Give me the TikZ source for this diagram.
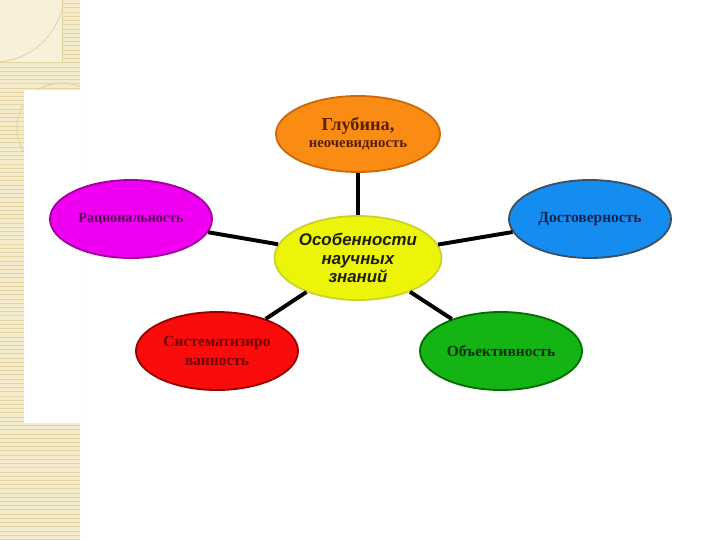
\documentclass[tikz,border=0pt]{standalone}
\usepackage{fontspec}
\setmainfont{Liberation Serif}
\newfontfamily\hubfont{Liberation Sans}
\usetikzlibrary{shapes.geometric,patterns}

\definecolor{stripbeige}{RGB}{244,234,204}
\definecolor{stripline}{RGB}{228,212,160}
\definecolor{stripcream}{RGB}{248,240,218}
\definecolor{orangefill}{RGB}{250,140,20}
\definecolor{orangeline}{RGB}{205,105,10}
\definecolor{orangetext}{RGB}{90,30,0}
\definecolor{yellowfill}{RGB}{236,244,10}
\definecolor{yellowline}{RGB}{205,210,40}
\definecolor{hubtext}{RGB}{30,30,10}
\definecolor{magentafill}{RGB}{240,0,240}
\definecolor{magentaline}{RGB}{160,0,160}
\definecolor{magentatext}{RGB}{80,0,80}
\definecolor{bluefill}{RGB}{20,140,240}
\definecolor{blueline}{RGB}{60,80,100}
\definecolor{bluetext}{RGB}{20,35,80}
\definecolor{redfill}{RGB}{250,12,12}
\definecolor{redline}{RGB}{150,0,0}
\definecolor{redtext}{RGB}{110,0,0}
\definecolor{greenfill}{RGB}{20,180,20}
\definecolor{greenline}{RGB}{0,110,0}
\definecolor{greentext}{RGB}{10,45,10}

\tikzset{
  oval/.style={ellipse, draw, line width=1.3pt, minimum width=4.05cm,
    minimum height=1.95cm, inner sep=0pt, align=center, font=\bfseries},
  link/.style={line width=2.8pt, black},
}

\begin{document}
\begin{tikzpicture}[x=0.025cm, y=-0.025cm]
  \useasboundingbox (0,0) rectangle (720,540);

  %%%%% STRIP %%%%%
  \fill[white] (0,0) rectangle (720,540);
  \fill[stripbeige] (0,0) rectangle (80,540);
  \fill[pattern=horizontal lines, pattern color=stripline] (0,0) rectangle (80,540);
  \fill[stripcream] (0,0) rectangle (62,62);
  \draw[stripline] (0,62) -- (62,62) -- (62,0);
  \begin{scope}
    \clip (0,0) rectangle (62,62);
    \draw[stripline, line width=0.6pt] (-6,-8) circle (70);
  \end{scope}
  \begin{scope}
    \clip (0,62) rectangle (80,90);
    \draw[stripline, line width=0.8pt] (62,128) circle (45);
  \end{scope}
  \begin{scope}
    \clip (0,90) rectangle (24,423);
    \draw[stripline, line width=0.8pt] (62,128) circle (45);
  \end{scope}
  \fill[white] (24,90) rectangle (80,423);

  %%%%% OVALS %%%%%
  \node[oval, fill=yellowfill, draw=yellowline, text=hubtext, minimum height=2.1cm,
    font=\hubfont\bfseries\itshape\fontsize{12}{13.2}\selectfont] (hub) at (358,258)
    {Особенности\\научных\\знаний};
  \node[oval, fill=orangefill, draw=orangeline, text=orangetext,
    minimum width=4.1cm, minimum height=1.9cm] (depth) at (358,134)
    {{\fontsize{13}{15}\selectfont Глубина,}\\{\fontsize{10.5}{13}\selectfont неочевидность}};
  \node[oval, fill=magentafill, draw=magentaline, text=magentatext,
    font=\bfseries\fontsize{10}{12}\selectfont] (ratio) at (131,219) {Рациональность};
  \node[oval, fill=bluefill, draw=blueline, text=bluetext, minimum height=1.95cm,
    font=\bfseries\fontsize{11}{13}\selectfont] (trust) at (590,219) {Достоверность};
  \node[oval, fill=redfill, draw=redline, text=redtext,
    font=\bfseries\fontsize{11}{13}\selectfont] (system) at (217,351)
    {Систематизиро\\ванность};
  \node[oval, fill=greenfill, draw=greenline, text=greentext,
    font=\bfseries\fontsize{11}{13}\selectfont] (object) at (501,351) {Объективность};

  %%%%% LINKS %%%%%
  \draw[link] (hub) -- (depth);
  \draw[link] (hub) -- (ratio);
  \draw[link] (hub) -- (trust);
  \draw[link] (hub) -- (system);
  \draw[link] (hub) -- (object);
\end{tikzpicture}
\end{document}
